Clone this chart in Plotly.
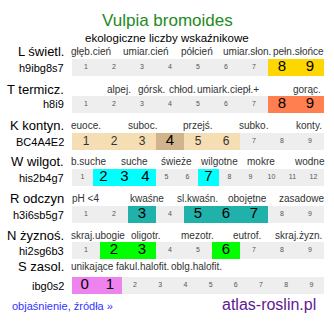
import plotly.graph_objects as go

W_PX, H_PX = 334, 322

title = "Vulpia bromoides"
subtitle = "ekologiczne liczby wskaźnikowe"

row_names = ["L świetl.", "T termicz.", "K kontyn.", "W wilgot.", "R odczyn", "N żyznoś.", "S zasol."]
row_codes = ["h9ibg8s7", "h8i9", "BC4A4E2", "his2b4g7", "h3i6sb5g7", "hi2sg6b3", "ibg0s2"]
row_scales = [
    list(range(1, 10)),
    list(range(1, 10)),
    list(range(1, 10)),
    list(range(1, 13)),
    list(range(1, 10)),
    list(range(1, 10)),
    list(range(0, 10)),
]
row_highlight = [[8, 9], [8, 9], [1, 2, 3, 5, 6], [2, 3, 4, 7], [3, 5, 6, 7], [2, 3, 6], [0, 1]]
row_primary = [[8, 9], [8, 9], [4], [2, 3, 4, 7], [3, 5, 6, 7], [2, 3, 6], [0, 1]]
row_colors = ["#FFD700", "#FF7F50", "#F5DEB3", "#00FFFF", "#20B2AA", "#00FF00", "#EE82EE"]
row_primary_colors = ["#FFD700", "#FF7F50", "#D2B48C", "#00FFFF", "#20B2AA", "#00FF00", "#EE82EE"]

cat_labels = [
    ["głęb.cień", "umiar.cień", "półcień", "umiar.słon.", "pełn.słońce"],
    ["alpej.", "górsk.", "chłod.", "umiark.", "ciepł.+", "gorąc."],
    ["euoce.", "suboc.", "przejś.", "subko.", "konty."],
    ["b.suche", "suche", "świeże", "wilgotne", "mokre", "wodne"],
    ["pH <4", "kwaśne", "sl.kwaśn.", "obojętne", "zasadowe"],
    ["skraj.ubogie", "oligotr.", "mezotr.", "eutrof.", "skraj.żyzn."],
    ["unikające", "fakul.halofit.", "oblg.halofit."],
]
# layout (pixels)
cat_label_x = [
    [91, 146, 197, 247, 298],
    [119, 151, 182, 213, 245, 307],
    [86, 142, 197, 253, 309],
    [88, 134, 176, 219, 261, 309],
    [85, 147, 197, 247, 301],
    [98, 145, 197, 247, 298],
    [92, 142, 196],
]
bar_tops = [59, 96, 133, 169, 206, 242, 277]
bar_h = 17
label_y = [51, 89, 126, 162, 198, 235, 266]
bar_left, bar_right = 72, 324

FONT = "Liberation Sans, Arial, sans-serif"

def px(x):
    return x / W_PX

def py(y):
    return 1 - y / H_PX

fig = go.Figure()
layout = dict(
    width=W_PX, height=H_PX, margin=dict(l=0, r=0, t=0, b=0),
    paper_bgcolor="white", plot_bgcolor="white", showlegend=False,
    font=dict(family=FONT),
)
annotations = []

for i in range(len(row_names)):
    ax = "" if i == 0 else str(i + 1)
    scale = row_scales[i]
    colors, tsize, tcolor = [], [], []
    for v in scale:
        if v in row_primary[i]:
            colors.append(row_primary_colors[i]); tsize.append(15); tcolor.append("#000000")
        elif v in row_highlight[i]:
            colors.append(row_colors[i]); tsize.append(12); tcolor.append("#333333")
        else:
            colors.append("#EEEEEE"); tsize.append(7); tcolor.append("#555555")
    fig.add_trace(go.Bar(
        x=scale, y=[1] * len(scale), width=1, marker=dict(color=colors, line=dict(width=0)),
        xaxis="x" + ax, yaxis="y" + ax, hoverinfo="skip",
    ))
    fig.add_trace(go.Scatter(
        x=scale, y=[0.5] * len(scale), mode="text", text=[str(v) for v in scale],
        textfont=dict(size=tsize, color=tcolor, family=FONT), textposition="middle center",
        xaxis="x" + ax, yaxis="y" + ax, hoverinfo="skip",
    ))
    layout["xaxis" + ax] = dict(domain=[px(bar_left), px(bar_right)],
                                range=[scale[0] - 0.5, scale[-1] + 0.5], visible=False,
                                anchor="y" + ax, fixedrange=True)
    layout["yaxis" + ax] = dict(domain=[py(bar_tops[i] + bar_h), py(bar_tops[i])],
                                range=[0, 1], visible=False, anchor="x" + ax, fixedrange=True)
    bc = bar_tops[i] + bar_h / 2
    annotations.append(dict(text=row_names[i], x=px(66), y=py(label_y[i]), xref="paper", yref="paper",
                            xanchor="right", yanchor="middle", showarrow=False,
                            font=dict(size=13, color="#000000", family=FONT)))
    annotations.append(dict(text=row_codes[i], x=px(66), y=py(bc), xref="paper", yref="paper",
                            xanchor="right", yanchor="middle", showarrow=False,
                            font=dict(size=11, color="#000000", family=FONT)))
    for lab, lx in zip(cat_labels[i], cat_label_x[i]):
        annotations.append(dict(text=lab, x=px(lx), y=py(label_y[i]), xref="paper", yref="paper",
                                xanchor="center", yanchor="middle", showarrow=False,
                                font=dict(size=10, color="#333333", family=FONT)))

annotations.append(dict(text=title, x=px(167), y=py(20), xref="paper", yref="paper",
                        xanchor="center", yanchor="middle", showarrow=False,
                        font=dict(size=17, color="#228B22", family=FONT)))
annotations.append(dict(text=subtitle, x=px(167), y=py(38), xref="paper", yref="paper",
                        xanchor="center", yanchor="middle", showarrow=False,
                        font=dict(size=11.5, color="#000000", family=FONT)))
annotations.append(dict(text="objaśnienie, źródła »", x=px(10), y=py(306), xref="paper", yref="paper",
                        xanchor="left", yanchor="middle", showarrow=False,
                        font=dict(size=11, color="#3333FF", family=FONT)))
annotations.append(dict(text="atlas-roslin.pl", x=px(318), y=py(304), xref="paper", yref="paper",
                        xanchor="right", yanchor="middle", showarrow=False,
                        font=dict(size=16, color="#5E1A91", family=FONT)))

layout["annotations"] = annotations
layout["bargap"] = 0
fig.update_layout(**layout)
fig.write_html("out.html", config={"displayModeBar": False})
